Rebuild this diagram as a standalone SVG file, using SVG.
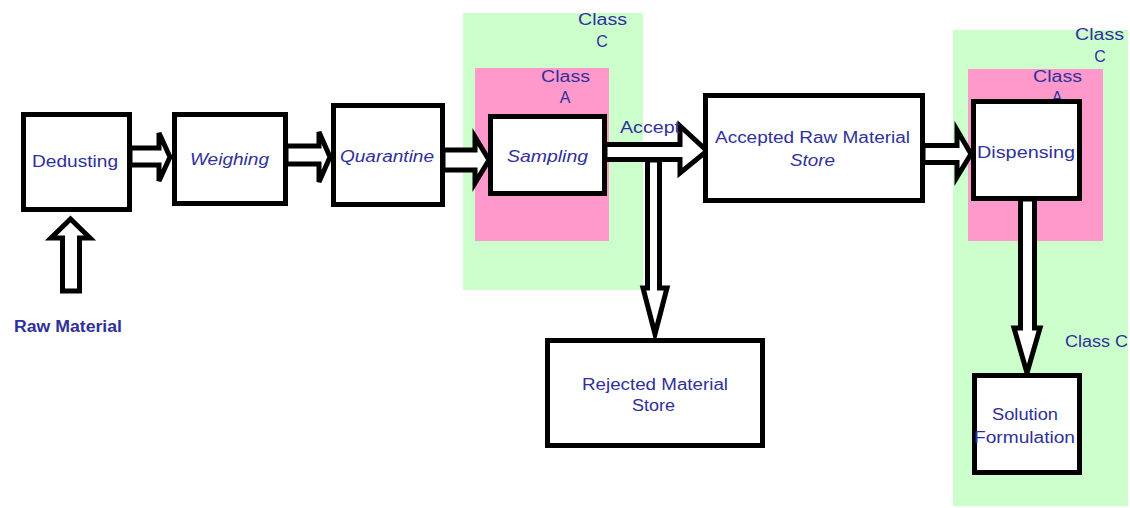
<svg xmlns="http://www.w3.org/2000/svg" width="1130" height="508" viewBox="0 0 1130 508">
<style>
.zoneC{fill:#ccffcc}
.zoneA{fill:#ff99cc}
.box{fill:#ffffff;stroke:#000000;stroke-width:5}
.arr{fill:#ffffff;stroke:#000000;stroke-width:5;stroke-linejoin:miter}
text{font-family:"Liberation Sans",Arial,sans-serif;font-size:16px;fill:#30309a}
.c{text-anchor:middle}
.i{font-style:italic}
.b{font-weight:bold}
</style>
<rect width="1130" height="508" fill="#ffffff"/>
<g id="zones">
<rect class="zoneC" x="463" y="13" width="180" height="277"/>
<rect class="zoneA" x="475" y="68" width="134" height="173"/>
<rect class="zoneC" x="953" y="30" width="175" height="476"/>
<rect class="zoneA" x="968" y="69" width="135" height="172"/>
<text x="578" y="25" textLength="49" lengthAdjust="spacingAndGlyphs">Class</text>
<text x="602" y="47" class="c">C</text>
<text x="541" y="82" textLength="49" lengthAdjust="spacingAndGlyphs">Class</text>
<text x="565" y="103" class="c">A</text>
<text x="1075" y="40" textLength="49" lengthAdjust="spacingAndGlyphs">Class</text>
<text x="1100" y="62" class="c">C</text>
<text x="1033" y="82" textLength="49" lengthAdjust="spacingAndGlyphs">Class</text>
<text x="1057" y="103" class="c">A</text>
<text x="1065" y="347" textLength="63" lengthAdjust="spacingAndGlyphs">Class C</text>
</g>
<g id="connectors">
<polygon class="arr" points="130,148 159,148 159,133 170,157 159,181 159,165 130,165"/>
<polygon class="arr" points="286,146 319,146 319,132 330,157 319,182 319,164 286,164"/>
<polygon class="arr" points="443,150 475,150 475,137 489,160 475,183 475,170 443,170"/>
<polygon class="arr" points="605,144.5 680,144.5 680,126 707,151 680,173 680,159.5 605,159.5"/>
<polygon class="arr" points="647.5,160 659.5,160 659.5,288 667,288 655,334 643,288 647.5,288"/>
<polygon class="arr" points="923,145.5 957,145.5 957,130 971,154 957,177 957,162.5 923,162.5"/>
<polygon class="arr" points="1020.5,199 1034.5,199 1034.5,328 1040,328 1027,373 1014,328 1020.5,328"/>
<polygon class="arr" points="62.5,291 62.5,238 51,238 70.5,219 90,238 79.5,238 79.5,291"/>
<text x="620" y="133" textLength="60" lengthAdjust="spacingAndGlyphs">Accept</text>
</g>
<g id="raw-material">
<text x="14" y="332" class="b" textLength="108" lengthAdjust="spacingAndGlyphs">Raw Material</text>
</g>
<g id="dedusting">
<rect class="box" x="23.5" y="114.5" width="106" height="95"/>
<text x="32" y="167" textLength="86" lengthAdjust="spacingAndGlyphs">Dedusting</text>
</g>
<g id="weighing">
<rect class="box" x="174.5" y="114.5" width="111" height="89"/>
<text x="190" y="165" class="i" textLength="79" lengthAdjust="spacingAndGlyphs">Weighing</text>
</g>
<g id="quarantine">
<rect class="box" x="333.5" y="105.5" width="109" height="99"/>
<text x="340" y="162" class="i" textLength="94" lengthAdjust="spacingAndGlyphs">Quarantine</text>
</g>
<g id="sampling">
<rect class="box" x="490.5" y="116.5" width="114" height="77"/>
<text x="507" y="162" class="i" textLength="81" lengthAdjust="spacingAndGlyphs">Sampling</text>
</g>
<g id="accepted-store">
<rect class="box" x="705.5" y="95.5" width="217" height="105"/>
<text x="715" y="143" textLength="195" lengthAdjust="spacingAndGlyphs">Accepted Raw Material</text>
<text x="790" y="166" class="i" textLength="45" lengthAdjust="spacingAndGlyphs">Store</text>
</g>
<g id="dispensing">
<rect class="box" x="973.5" y="101.5" width="106" height="97"/>
<text x="977" y="158" textLength="98" lengthAdjust="spacingAndGlyphs">Dispensing</text>
</g>
<g id="rejected-store">
<rect class="box" x="547.5" y="340.5" width="215" height="105"/>
<text x="582" y="390" textLength="146" lengthAdjust="spacingAndGlyphs">Rejected Material</text>
<text x="632" y="411" textLength="43" lengthAdjust="spacingAndGlyphs">Store</text>
</g>
<g id="solution-formulation">
<rect class="box" x="974.5" y="375.5" width="105" height="97"/>
<text x="992" y="420" font-size="15" textLength="66" lengthAdjust="spacingAndGlyphs">Solution</text>
<text x="974" y="443" textLength="101" lengthAdjust="spacingAndGlyphs">Formulation</text>
</g>
</svg>
